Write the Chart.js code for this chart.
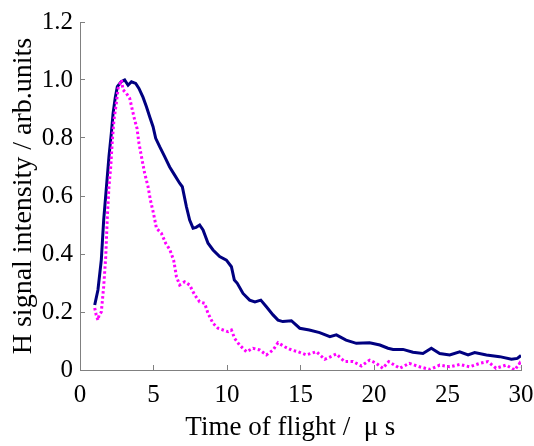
<!DOCTYPE html>
<html lang="en">
<head>
  <meta charset="UTF-8">
  <title>H signal intensity vs time of flight</title>
  <script src="https://cdn.jsdelivr.net/npm/chart.js"></script>
  <style>
    body { margin: 0; background: #fff; }
    canvas { display: block; }
  </style>
</head>
<body>
  <canvas id="tofChart" width="534" height="446"></canvas>

  <script>
    // time of flight (μs) and normalised signal
    const navyTime = [1.0, 1.22, 1.45, 1.61, 1.8, 1.97, 2.13, 2.25, 2.4, 2.54, 2.8, 3.04, 3.27, 3.5, 3.79,
      4.01, 4.29, 4.52, 4.74, 4.97, 5.15, 5.42, 5.76, 6.1, 6.44, 6.78, 6.96, 7.24, 7.46, 7.69, 7.9,
      8.14, 8.37, 8.71, 9.05, 9.5, 9.96, 10.3, 10.5, 10.7, 11.09, 11.54, 11.9, 12.3, 12.68, 13.13,
      13.47, 13.8, 14.38, 14.95, 15.6, 16.3, 17.0, 17.44, 18.1, 18.8, 19.7, 20.4, 20.95, 21.3, 21.97,
      22.65, 23.33, 23.9, 24.47, 25.15, 25.83, 26.4, 26.85, 27.65, 28.55, 29.35, 29.75, 30.0];
    const navyValue = [0.224, 0.276, 0.38, 0.517, 0.632, 0.736, 0.816, 0.885, 0.94, 0.977, 0.994, 1.0, 0.982, 0.994, 0.988,
      0.971, 0.94, 0.908, 0.873, 0.839, 0.799, 0.77, 0.736, 0.70, 0.672, 0.644, 0.632, 0.563, 0.517, 0.489, 0.492,
      0.5, 0.483, 0.437, 0.414, 0.391, 0.379, 0.356, 0.31, 0.299, 0.264, 0.241, 0.235, 0.241, 0.218, 0.19,
      0.172, 0.167, 0.170, 0.144, 0.138, 0.129, 0.115, 0.121, 0.103, 0.092, 0.094, 0.086, 0.075, 0.071, 0.071,
      0.061, 0.057, 0.075, 0.057, 0.052, 0.063, 0.052, 0.060, 0.052, 0.046, 0.037, 0.040, 0.05];

    const pinkTime = [1.0, 1.1, 1.22, 1.3, 1.45, 1.61, 1.75, 1.86, 1.97, 2.09, 2.2, 2.31, 2.47, 2.59, 2.82, 2.93,
      3.16, 3.38, 3.56, 3.72, 3.88, 4.01, 4.18, 4.4, 4.63, 4.79, 5.0, 5.2, 5.54, 5.83, 6.1, 6.37, 6.56,
      6.78, 7.12, 7.46, 7.8, 8.14, 8.48, 8.71, 9.05, 9.39, 9.73, 10.07, 10.3, 10.52, 10.86, 11.32, 11.77,
      12.22, 12.68, 13.13, 13.47, 13.93, 14.38, 14.83, 15.4, 16.08, 16.65, 17.44, 18.0, 18.57, 19.14,
      19.7, 20.16, 20.6, 21.0, 21.75, 22.4, 23.1, 23.8, 24.47, 25.15, 25.83, 26.5, 27.2, 27.75, 28.3,
      29.0, 29.57, 29.9, 30.0];
    const pinkValue = [0.214, 0.19, 0.172, 0.19, 0.2, 0.287, 0.39, 0.53, 0.632, 0.70, 0.793, 0.862, 0.92, 0.971, 1.0, 0.966,
      0.954, 0.937, 0.897, 0.862, 0.833, 0.782, 0.736, 0.678, 0.632, 0.586, 0.54, 0.489, 0.471, 0.437, 0.416, 0.379, 0.322,
      0.293, 0.304, 0.293, 0.259, 0.235, 0.230, 0.195, 0.161, 0.144, 0.138, 0.132, 0.138, 0.109, 0.086, 0.063, 0.075,
      0.069, 0.052, 0.069, 0.094, 0.080, 0.069, 0.063, 0.052, 0.063, 0.037, 0.055, 0.029, 0.029, 0.014,
      0.034, 0.023, 0.006, 0.029, 0.006, 0.023, 0.011, 0.002, 0.017, 0.011, 0.019, 0.011, 0.023, 0.029, 0.006,
      0.017, 0.0, 0.023, 0.01];

    const xTicks = [0, 5, 10, 15, 20, 25, 30];
    const yTicks = [0, 0.2, 0.4, 0.6, 0.8, 1.0, 1.2];

    const serif = "'Liberation Serif', 'Times New Roman', serif";
    const axisGrey = '#808080';

    const toPoints = (xs, ys) => xs.map((x, i) => ({ x: x, y: ys[i] }));

    const ctx = document.getElementById('tofChart').getContext('2d');
    new Chart(ctx, {
      type: 'line',
      data: {
        datasets: [
          {
            // magenta dotted trace, drawn on top
            data: toPoints(pinkTime, pinkValue),
            borderColor: '#ff00ff',
            borderWidth: 3,
            borderDash: [2.5, 2.5],
            pointRadius: 0,
            tension: 0
          },
          {
            data: toPoints(navyTime, navyValue),
            borderColor: '#000080',
            borderWidth: 3,
            pointRadius: 0,
            tension: 0
          }
        ]
      },
      options: {
        responsive: false,
        animation: false,
        layout: { padding: { top: 22, right: 13, left: 0, bottom: 0 } },
        plugins: { legend: { display: false }, tooltip: { enabled: false } },
        scales: {
          x: {
            type: 'linear',
            min: xTicks[0],
            max: xTicks[xTicks.length - 1],
            afterBuildTicks: s => { s.ticks = xTicks.map(v => ({ value: v })); },
            afterFit: s => { s.height = 76; s.paddingLeft = 0; s.paddingRight = 0; },
            border: { display: true, color: axisGrey, width: 1 },
            grid: { display: true, drawOnChartArea: false, drawTicks: true, tickLength: -5, color: axisGrey },
            ticks: {
              color: '#000',
              padding: 15,
              maxRotation: 0,
              font: { family: serif, size: 25 },
              callback: v => String(v)
            },
            title: {
              display: true,
              text: 'Time of flight /  μ s   ',
              color: '#000',
              font: { family: serif, size: 27 },
              padding: { top: 0, bottom: 2 }
            }
          },
          y: {
            type: 'linear',
            min: yTicks[0],
            max: yTicks[yTicks.length - 1],
            afterBuildTicks: s => { s.ticks = yTicks.map(v => ({ value: v })); },
            afterFit: s => { s.width = 80; s.paddingTop = 0; s.paddingBottom = 0; },
            border: { display: true, color: axisGrey, width: 1 },
            grid: { display: true, drawOnChartArea: false, drawTicks: true, tickLength: -5, color: axisGrey },
            ticks: {
              color: '#000',
              padding: 12,
              font: { family: serif, size: 25 },
              callback: v => (v === 0 ? '0' : v.toFixed(1))
            },
            title: {
              display: true,
              text: 'H signal intensity / arb.units',
              color: '#000',
              font: { family: serif, size: 28 },
              padding: { top: 7, bottom: 0 }
            }
          }
        }
      }
    });
  </script>
</body>
</html>
